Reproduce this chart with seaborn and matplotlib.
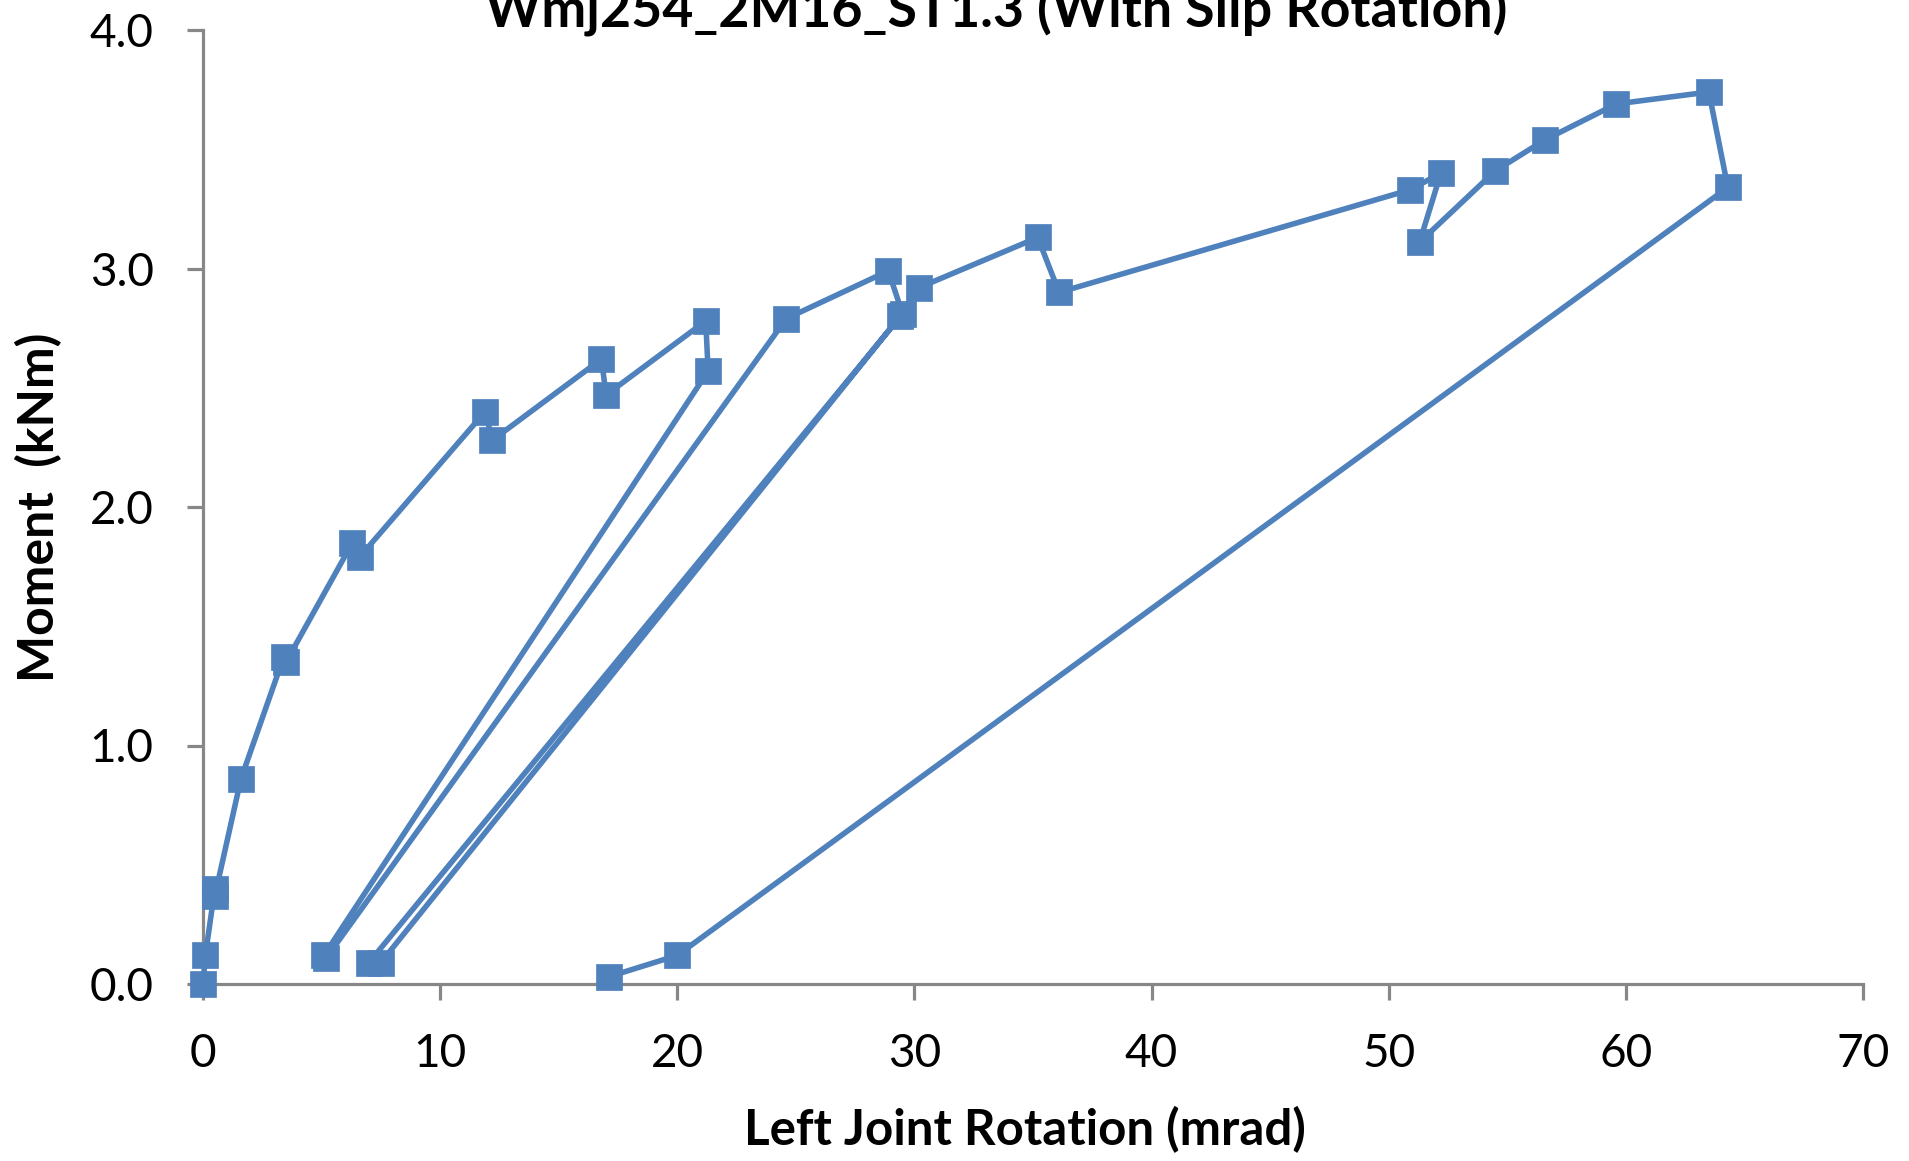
import matplotlib
matplotlib.use("Agg")
import matplotlib.pyplot as plt
import matplotlib.font_manager as fm
import seaborn as sns
import pandas as pd

# ---- data ----
rotation = [0.0, 0.1, 0.5, 0.5, 1.6, 3.4, 3.5, 6.3, 6.6, 11.9, 12.2, 16.8, 17.0,
            21.2, 21.3, 5.1, 5.2, 24.6, 28.9, 29.5, 7.0, 7.5, 29.4, 30.2, 35.2,
            36.1, 50.9, 52.2, 51.3, 54.5, 56.6, 59.6, 63.5, 64.3, 20.0, 17.1]
moment = [0.0, 0.12, 0.40, 0.37, 0.86, 1.37, 1.35, 1.85, 1.79, 2.40, 2.28, 2.62, 2.47,
          2.78, 2.57, 0.12, 0.11, 2.79, 2.99, 2.81, 0.09, 0.09, 2.80, 2.92, 3.13,
          2.90, 3.33, 3.40, 3.11, 3.41, 3.54, 3.69, 3.74, 3.34, 0.12, 0.03]
x_ticks = [0, 10, 20, 30, 40, 50, 60, 70]
y_ticks = [0.0, 1.0, 2.0, 3.0, 4.0]
title = "Wmj254_2M16_ST1.3 (With Slip Rotation)"
x_label = "Left Joint Rotation (mrad)"
y_label = "Moment  (kNm)"

df = pd.DataFrame({"rotation": rotation, "moment": moment})

sns.set_theme(style="white")
installed = {f.name for f in fm.fontManager.ttflist}
fam = [f for f in ["Lato", "Liberation Sans", "DejaVu Sans"] if f in installed]
plt.rcParams["font.family"] = fam + ["DejaVu Sans"]

BLUE = "#4F81BD"
GREY = "#878787"

fig = plt.figure(figsize=(19.09, 11.61), dpi=100)
ax = fig.add_axes([203 / 1909, 1 - 984 / 1161, 1660 / 1909, 954 / 1161])

sns.lineplot(data=df, x="rotation", y="moment", sort=False, estimator=None,
             ax=ax, color=BLUE, linewidth=4.0, marker="s", markersize=18.5,
             markeredgecolor=BLUE, markeredgewidth=0.5, clip_on=False, zorder=4)

ax.set_xlim(0, 70)
ax.set_ylim(0, 4)
ax.set_xticks(x_ticks)
ax.set_xticklabels([str(v) for v in x_ticks])
ax.set_yticks(y_ticks)
ax.set_yticklabels([f"{v:.1f}" for v in y_ticks])

for side in ["top", "right"]:
    ax.spines[side].set_visible(False)
for side in ["left", "bottom"]:
    ax.spines[side].set_color(GREY)
    ax.spines[side].set_linewidth(2.3)

ax.tick_params(axis="both", which="major", direction="out", length=11.5, width=2.3,
               color=GREY, labelsize=33, labelcolor="black", pad=24,
               left=True, bottom=True)
ax.grid(False)

ax.set_xlabel(x_label, fontsize=35.5, fontweight="bold", color="black")
ax.set_ylabel(y_label, fontsize=36, fontweight="bold", color="black")
ax.xaxis.set_label_coords(0.495, -0.128)
ax.yaxis.set_label_coords(-0.085, 0.5)

fig.text(996 / 1909, 1 - 26 / 1161, title, ha="center", va="baseline",
         fontsize=38.6, fontweight="bold", color="black")

fig.savefig("out.png", dpi=100, facecolor="white")
